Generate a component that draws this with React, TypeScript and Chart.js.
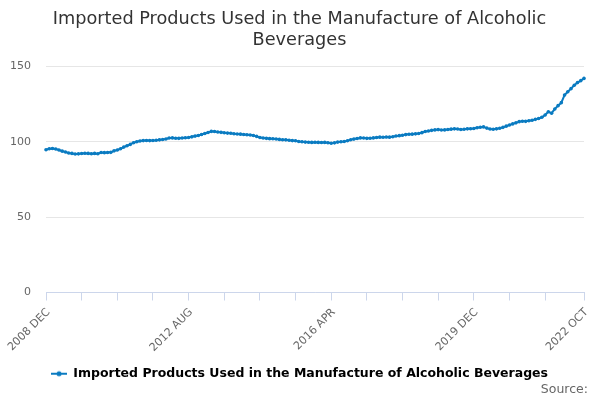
import React, { useEffect, useRef } from "react";
import { Chart, registerables } from "chart.js";

Chart.register(...registerables);

const FONT = "'DejaVu Sans', 'Liberation Sans', sans-serif";
const LINE_COLOR = "#0a7bc1";
const AXIS_COLOR = "#ccd6eb";
const LABEL_COLOR = "#666666";

const seriesName = "Imported Products Used in the Manufacture of Alcoholic Beverages";
const titleLines = ["Imported Products Used in the Manufacture of Alcoholic", "Beverages"];

// monthly index, 2008 DEC .. 2022 OCT
const startYear = 2008;
const startMonth = 11; // DEC
const monthNames = ["JAN", "FEB", "MAR", "APR", "MAY", "JUN", "JUL", "AUG", "SEP", "OCT", "NOV", "DEC"];

const values: number[] = [
  94.7, 95.4, 95.6, 95.2, 94.6, 93.8, 93.2, 92.6, 92.3, 91.9, 92.0, 92.2,
  92.4, 92.3, 92.1, 92.3, 92.1, 92.9, 92.8, 92.9, 93.0, 94.0, 94.6, 95.4,
  96.5, 97.4, 98.3, 99.4, 100.0, 100.5, 100.8, 100.9, 100.8, 100.9, 101.0, 101.3,
  101.5, 101.9, 102.5, 102.6, 102.4, 102.3, 102.5, 102.7, 102.9, 103.3, 103.8, 104.2,
  104.9, 105.5, 106.2, 106.9, 106.8, 106.5, 106.3, 106.0, 105.8, 105.7, 105.4, 105.2,
  105.1, 104.9, 104.7, 104.5, 104.2, 103.6, 102.9, 102.5, 102.3, 102.1, 102.0, 101.9,
  101.6, 101.4, 101.3, 101.0, 100.8, 100.7, 100.2, 100.0, 99.8, 99.7, 99.6, 99.7,
  99.6, 99.5, 99.6, 99.4, 99.1, 99.3, 99.8, 100.0, 100.2, 100.7, 101.4, 101.8,
  102.2, 102.6, 102.5, 102.3, 102.4, 102.6, 102.9, 103.1, 103.0, 103.2, 103.1, 103.4,
  103.9, 104.1, 104.4, 104.8, 105.0, 105.1, 105.3, 105.5, 106.1, 106.8, 107.2, 107.6,
  107.9, 108.1, 107.8, 107.9, 108.2, 108.4, 108.6, 108.5, 108.2, 108.3, 108.6, 108.7,
  108.8, 109.3, 109.7, 109.9, 109.1, 108.5, 108.3, 108.6, 109.0, 109.6, 110.4, 111.2,
  111.9, 112.6, 113.4, 113.7, 113.6, 114.0, 114.3, 114.9, 115.5, 116.3, 117.8, 120.0,
  119.0, 121.8, 124.0, 126.0, 131.0, 133.2, 135.3, 137.5, 139.3, 140.6, 142.1,
];

const categories: string[] = values.map((_, i) => {
  const m = startMonth + i;
  return `${startYear + Math.floor(m / 12)} ${monthNames[m % 12]}`;
});

const labelledIndices = [0, 44, 88, 132, 166];
const tickIndices = [0, 11, 22, 33, 44, 55, 66, 77, 88, 99, 110, 121, 132, 143, 154, 166];
const yMin = 0;
const yMax = 150;
const yStep = 50;

function legendSymbol(): HTMLCanvasElement {
  const c = document.createElement("canvas");
  c.width = 16;
  c.height = 8;
  const g = c.getContext("2d");
  if (g) {
    g.strokeStyle = LINE_COLOR;
    g.lineWidth = 2;
    g.beginPath();
    g.moveTo(0, 4);
    g.lineTo(16, 4);
    g.stroke();
    g.fillStyle = LINE_COLOR;
    g.beginPath();
    g.arc(8, 4, 2.5, 0, Math.PI * 2);
    g.fill();
  }
  return c;
}

// rotated category labels, drawn at the x scale's own tick pixels
const xLabelPlugin = {
  id: "xLabels",
  afterDraw(chart: Chart) {
    const scale: any = chart.scales.x;
    const ctx = chart.ctx;
    ctx.save();
    ctx.font = `11px ${FONT}`;
    ctx.fillStyle = LABEL_COLOR;
    ctx.textAlign = "right";
    ctx.textBaseline = "middle";
    labelledIndices.forEach((i) => {
      const x = scale.getPixelForValue(i);
      ctx.save();
      ctx.translate(x + 2.5, scale.top + 18);
      ctx.rotate(-Math.PI / 4);
      ctx.fillText(categories[i], 0, 0);
      ctx.restore();
    });
    ctx.restore();
  },
};

const sourcePlugin = {
  id: "sourceText",
  afterDraw(chart: Chart) {
    const ctx = chart.ctx;
    ctx.save();
    ctx.font = `12.5px ${FONT}`;
    ctx.fillStyle = LABEL_COLOR;
    ctx.textAlign = "right";
    ctx.textBaseline = "middle";
    ctx.fillText("Source:", 588, 390);
    ctx.restore();
  },
};

export default function App() {
  const canvasRef = useRef<HTMLCanvasElement | null>(null);
  const chartRef = useRef<Chart | null>(null);

  useEffect(() => {
    document.body.style.margin = "0";
    if (!canvasRef.current) return;
    const ctx = canvasRef.current.getContext("2d");
    if (!ctx) return;

    if (chartRef.current) {
      chartRef.current.destroy();
    }

    const symbol = legendSymbol();

    chartRef.current = new Chart(ctx, {
      type: "line",
      data: {
        labels: categories,
        datasets: [
          {
            label: seriesName,
            data: values,
            borderColor: LINE_COLOR,
            backgroundColor: LINE_COLOR,
            borderWidth: 2,
            pointRadius: 1.8,
            pointBorderWidth: 0,
            pointBackgroundColor: LINE_COLOR,
            tension: 0,
          },
        ],
      },
      options: {
        responsive: true,
        maintainAspectRatio: false,
        animation: false,
        layout: {
          padding: { left: 9, right: 10, top: 0, bottom: 10 },
        },
        plugins: {
          title: {
            display: true,
            text: titleLines,
            color: "#333333",
            font: { family: FONT, size: 17.7, weight: "normal", lineHeight: 1.2 },
            padding: { top: 9, bottom: 15 },
          },
          legend: {
            display: true,
            position: "bottom",
            labels: {
              usePointStyle: true,
              boxWidth: 16,
              pointStyleWidth: 16,
              padding: 10,
              color: "#333333",
              font: { family: FONT, size: 12.5, weight: "bold" },
              generateLabels: () => [
                {
                  text: seriesName,
                  pointStyle: symbol,
                  fillStyle: LINE_COLOR,
                  strokeStyle: LINE_COLOR,
                  lineWidth: 0,
                  hidden: false,
                  datasetIndex: 0,
                },
              ],
            },
          },
          tooltip: { enabled: false },
        },
        scales: {
          x: {
            type: "category",
            offset: false,
            afterFit: (scale: any) => {
              scale.height = 65;
            },
            grid: {
              drawOnChartArea: false,
              tickLength: 8,
              color: (c: any) => (tickIndices.includes(c.index) ? AXIS_COLOR : "rgba(0,0,0,0)"),
              tickColor: (c: any) => (tickIndices.includes(c.index) ? AXIS_COLOR : "rgba(0,0,0,0)"),
            },
            border: { display: true, color: AXIS_COLOR, width: 1 },
            ticks: {
              autoSkip: false,
              maxRotation: 0,
              callback: () => "",
            },
          },
          y: {
            min: yMin,
            max: yMax,
            afterFit: (scale: any) => {
              scale.width = 37;
            },
            grid: { color: "#e6e6e6", drawTicks: false },
            border: { display: false },
            ticks: {
              stepSize: yStep,
              padding: 15,
              color: LABEL_COLOR,
              font: { family: FONT, size: 11 },
            },
          },
          // empty spacer on the right so the plot ends where the reference's does
          spacer: {
            type: "linear",
            position: "right",
            display: true,
            afterFit: (scale: any) => {
              scale.width = 6;
            },
            grid: { display: false, drawTicks: false },
            border: { display: false },
            ticks: { display: false },
          },
        },
      },
      plugins: [xLabelPlugin, sourcePlugin],
    });

    return () => {
      if (chartRef.current) {
        chartRef.current.destroy();
        chartRef.current = null;
      }
    };
  }, []);

  return (
    <div style={{ width: 600, height: 400, position: "relative" }}>
      <canvas ref={canvasRef} />
    </div>
  );
}
